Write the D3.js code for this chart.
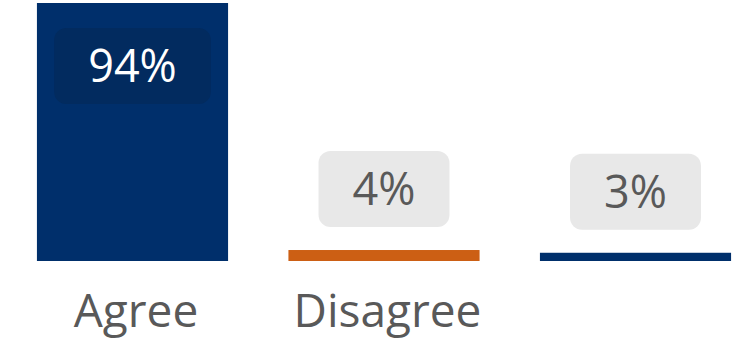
<!DOCTYPE html>
<html>
<head>
<meta charset="utf-8">
<script src="https://cdn.jsdelivr.net/npm/d3@7"></script>
<style>
  html, body { margin: 0; padding: 0; background: #ffffff; }
  svg { display: block; }
  text { font-family: "Open Sans", "Noto Sans", sans-serif; }
</style>
</head>
<body>
<svg id="chart" width="754" height="344"></svg>
<script>
// Survey responses
const categories = ["Agree", "Disagree", ""];
const values = [94, 4, 3];
const valueLabels = ["94%", "4%", "3%"];
const barColors = ["#002f6b", "#cc5f14", "#002f6b"];

const W = 754, H = 344;
const baseline = 261, topY = 3;
const valueFont = 45, catFont = 46;

const svg = d3.select("#chart");

const x = d3.scaleBand()
  .domain(d3.range(categories.length))
  .range([6.75, 761.25])
  .paddingInner(0.24)
  .paddingOuter(0.12);

const y = d3.scaleLinear()
  .domain([0, d3.max(values)])
  .range([baseline, topY]);

const data = categories.map((c, i) => ({
  i, cat: c, value: values[i], label: valueLabels[i], color: barColors[i]
}));

// bars
svg.append("g").selectAll("rect")
  .data(data)
  .join("rect")
  .attr("x", d => x(d.i))
  .attr("y", d => y(d.value))
  .attr("width", x.bandwidth())
  .attr("height", d => baseline - y(d.value))
  .attr("fill", d => d.color);

// value labels: inside the tall bar, above the short ones
const boxH = 76, padX = 34;
const labels = svg.append("g").selectAll("g")
  .data(data)
  .join("g");

labels.each(function(d) {
  const g = d3.select(this);
  const inside = (baseline - y(d.value)) > boxH + 40;
  const cx = x(d.i) + x.bandwidth() / 2;
  const boxTop = inside ? y(d.value) + 25 : y(d.value) - 23 - boxH;
  const rect = g.append("rect");
  const t = g.append("text")
    .attr("x", cx)
    .attr("y", boxTop + boxH / 2 + valueFont * 0.357)
    .attr("text-anchor", "middle")
    .attr("font-size", valueFont)
    .attr("fill", inside ? "#ffffff" : "#595959")
    .text(d.label);
  const tw = t.node().getComputedTextLength();
  rect.attr("x", cx - tw / 2 - padX)
    .attr("y", boxTop)
    .attr("width", tw + 2 * padX)
    .attr("height", boxH)
    .attr("rx", 12)
    .attr("fill", inside ? "#022b5f" : "#e8e8e8");
});

// category axis labels
svg.append("g").selectAll("text")
  .data(data)
  .join("text")
  .attr("x", d => x(d.i) + x.bandwidth() / 2 + 3.5)
  .attr("y", 326.5)
  .attr("text-anchor", "middle")
  .attr("font-size", catFont)
  .attr("fill", "#595959")
  .text(d => d.cat);
</script>
</body>
</html>
